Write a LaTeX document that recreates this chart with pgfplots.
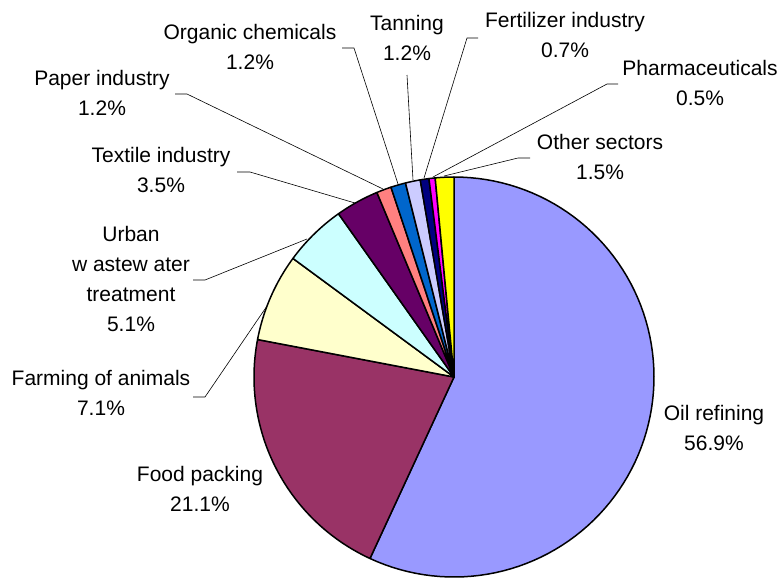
\documentclass[border=0pt]{standalone}
\usepackage{pgfplots}
\pgfplotsset{compat=1.18}
\usepackage{pgfplotstable}
\usepackage{fontspec}
\setmainfont{Liberation Sans}
\definecolor{c0}{HTML}{9999FF}
\definecolor{c1}{HTML}{993366}
\definecolor{c2}{HTML}{FFFFCC}
\definecolor{c3}{HTML}{CCFFFF}
\definecolor{c4}{HTML}{660066}
\definecolor{c5}{HTML}{FF8080}
\definecolor{c6}{HTML}{0066CC}
\definecolor{c7}{HTML}{CCCCFF}
\definecolor{c8}{HTML}{000080}
\definecolor{c9}{HTML}{FF00FF}
\definecolor{c10}{HTML}{FFFF00}
\pgfplotstableread{
value
56.9
21.1
7.1
5.1
3.5
1.2
1.2
1.2
0.7
0.5
1.5
}\piedata
\newcommand\lbl{\fontsize{21}{30}\selectfont}
\begin{document}
\begin{tikzpicture}
\begin{axis}[
  width=781pt, height=577pt, scale only axis,
  xmin=0, xmax=781, ymin=0, ymax=577, y dir=reverse,
  hide axis, clip=false,
]
\path (rel axis cs:0,0) rectangle (rel axis cs:1,1);
\gdef\cum{0}
\pgfplotsforeachungrouped \i in {0,...,10}{%
  \pgfplotstablegetelem{\i}{value}\of\piedata
  \pgfmathsetmacro\angA{90-3.6*\cum}%
  \pgfmathsetmacro\newcum{\cum+\pgfplotsretval}%
  \pgfmathsetmacro\angB{90-3.6*\newcum}%
  \xdef\cum{\newcum}%
  \edef\temp{\noexpand\addplot[fill=c\i, draw=black, line width=1.5pt, line join=round, domain=\angB:\angA, samples=90] ({454+200*cos(x)},{377-200*sin(x)}) -- (axis cs:454,377) -- cycle;}%
  \temp
}
% leader lines
\draw[black, line width=0.6pt] (342,48) -- (354,48) -- (398,184);
\draw[black, line width=0.6pt] (407,75) -- (413,180);
\draw[black, line width=0.6pt] (478,38) -- (467,38) -- (424,178);
\draw[black, line width=0.6pt] (618,84) -- (607,84) -- (433,177);
\draw[black, line width=0.6pt] (530,158) -- (518,158) -- (444,176);
\draw[black, line width=0.6pt] (175,94) -- (187,94) -- (383,189);
\draw[black, line width=0.6pt] (237,172) -- (250,172) -- (355,203);
\draw[black, line width=0.6pt] (193,280) -- (205,280) -- (307,239);
\draw[black, line width=0.6pt] (193,397) -- (205,397) -- (267,306);
% labels
\node[align=center, font=\lbl] at (axis cs:714,428) {Oil refining\\56.9\%};
\node[align=center, font=\lbl] at (axis cs:200,489) {Food packing\\21.1\%};
\node[align=center, font=\lbl] at (axis cs:101,393) {Farming of animals\\7.1\%};
\node[align=center, font=\lbl] at (axis cs:131,279) {Urban\\w astew ater\\treatment\\5.1\%};
\node[align=center, font=\lbl] at (axis cs:161,170) {Textile industry\\3.5\%};
\node[align=center, font=\lbl] at (axis cs:102,93) {Paper industry\\1.2\%};
\node[align=center, font=\lbl] at (axis cs:250,47) {Organic chemicals\\1.2\%};
\node[align=center, font=\lbl] at (axis cs:407,38) {Tanning\\1.2\%};
\node[align=center, font=\lbl] at (axis cs:565,35) {Fertilizer industry\\0.7\%};
\node[align=center, font=\lbl] at (axis cs:700,83) {Pharmaceuticals\\0.5\%};
\node[align=center, font=\lbl] at (axis cs:600,157) {Other sectors\\1.5\%};
\end{axis}
\end{tikzpicture}
\end{document}
